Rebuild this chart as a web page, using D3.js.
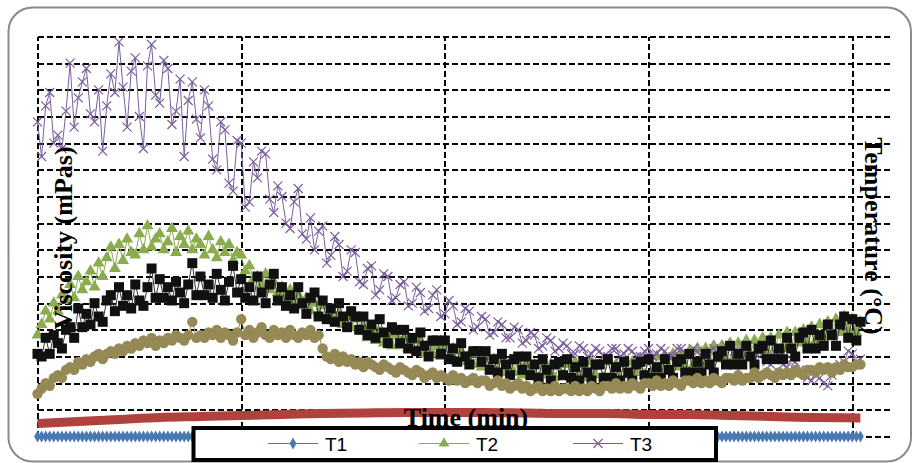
<!DOCTYPE html>
<html>
<head>
<meta charset="utf-8">
<script src="https://cdn.jsdelivr.net/npm/d3@7"></script>
<style>
  body { margin: 0; background: #fff; }
  svg { display: block; }
</style>
</head>
<body>
<div id="chart"></div>
<script>
// one reading per minute, 0..202 min
var time = d3.range(0, 203, 1);

var t1 = [0,0,0,0,0,0,0,0,0,0,0,0,0,0,0,0,0,0,0,0,
          0,0,0,0,0,0,0,0,0,0,0,0,0,0,0,0,0,0,0,0,
          0,0,0,0,0,0,0,0,0,0,0,0,0,0,0,0,0,0,0,0,
          0,0,0,0,0,0,0,0,0,0,0,0,0,0,0,0,0,0,0,0,
          0,0,0,0,0,0,0,0,0,0,0,0,0,0,0,0,0,0,0,0,
          0,0,0,0,0,0,0,0,0,0,0,0,0,0,0,0,0,0,0,0,
          0,0,0,0,0,0,0,0,0,0,0,0,0,0,0,0,0,0,0,0,
          0,0,0,0,0,0,0,0,0,0,0,0,0,0,0,0,0,0,0,0,
          0,0,0,0,0,0,0,0,0,0,0,0,0,0,0,0,0,0,0,0,
          0,0,0,0,0,0,0,0,0,0,0,0,0,0,0,0,0,0,0,0,
          0,0,0];

var t2 = [38,42,47,44,50,47,53,51,57,52, 60,55,58,62,56,65,60,67,71,63,
          72,66,74,69,68,76,70,79,71,74, 76,70,73,78,69,75,72,77,70,74,
          72,68,75,70,67,73,69,72,66,69, 68,62,64,59,60,57,61,55,58,54,
          56,52,55,50,53,49,52,47,50,46, 49,45,47,43,46,42,45,41,44,40,
          41,37,40,36,39,35,38,34,38,34, 37,33,36,32,36,31,35,31,34,30,
          34,29,33,28,32,28,31,27,31,26, 30,26,29,25,29,24,28,24,28,23,
          27,23,27,22,28,23,27,22,27,23, 27,22,28,23,27,22,28,23,27,22,
          28,23,27,22,28,23,28,24,29,23, 29,24,30,25,30,25,31,26,31,26,
          32,27,33,27,33,28,34,29,34,29, 35,30,35,30,36,31,36,32,37,32,
          37,33,38,33,39,34,39,35,40,35, 41,36,42,37,43,38,44,39,45,40,
          44,39,43];

var t3 = [118,105,124,129,110,113,108,122,140,116, 127,133,138,121,118,130,107,124,136,129,
          148,131,116,137,142,120,108,139,147,128, 125,141,138,117,122,134,105,126,133,119,
          112,130,124,104,100,118,115,95,92,111, 110,86,88,103,97,107,106,89,84,94,
          90,80,78,88,93,76,74,82,70,77, 79,65,68,75,72,60,62,70,69,58,
          57,63,64,53,55,61,60,51,52,57, 58,49,50,56,54,47,48,53,55,45,
          46,51,49,42,43,48,47,40,41,45, 44,38,39,43,42,37,37,41,40,35,
          36,39,38,33,34,37,36,32,33,35, 34,31,31,34,33,30,31,33,32,30,
          30,33,33,30,31,33,32,30,30,32, 33,30,31,33,32,30,30,33,33,31,
          31,33,32,30,30,32,33,31,31,34, 34,32,32,34,33,30,29,32,31,28,
          27,30,30,27,26,29,28,25,24,22, 21,23,22,20,19,23,25,27,28,32,
          31,28,29];

// black squares
var t4 = [31,30,37,31,38,35,33,40,41,37, 48,41,46,42,50,45,43,51,53,47,
          56,49,53,48,57,51,49,56,63,52, 59,52,56,51,58,54,50,57,65,53,
          60,53,57,52,61,55,51,58,64,54, 59,52,56,51,60,54,50,57,61,51,
          56,49,53,48,56,50,46,52,54,45, 51,44,48,43,50,45,41,47,45,40,
          45,38,42,37,44,39,35,41,40,35, 40,33,37,32,39,34,30,36,36,31,
          36,29,33,28,35,30,27,32,32,28, 32,25,29,24,31,27,23,29,30,25,
          30,23,27,22,29,25,21,27,28,23, 29,22,26,21,28,24,21,27,27,22,
          29,22,26,21,28,24,21,27,28,23, 29,22,26,22,29,25,22,28,29,24,
          31,24,28,24,31,27,24,30,32,27, 34,27,31,27,34,30,27,33,34,29,
          36,29,33,29,37,33,30,37,39,33, 40,33,38,34,42,38,34,42,45,37,
          44,36,43];

// tan circles
var t5 = [16,18,20,19,22,23,22,25,26,25, 28,27,29,28,30,31,29,31,32,31,
          33,32,34,33,35,34,36,35,37,34, 36,35,37,36,38,37,36,38,43,37,
          38,37,39,38,40,37,39,38,36,39, 44,38,40,37,39,41,38,37,40,38,
          39,37,40,38,37,39,38,40,37,38, 33,30,29,31,28,30,28,29,27,28,
          26,28,27,26,25,27,26,25,24,26, 25,24,23,25,24,22,23,24,22,23,
          22,21,23,21,22,20,21,22,20,21, 21,19,20,21,19,20,18,19,20,18,
          19,17,18,19,17,18,17,19,17,18, 18,17,19,17,18,17,19,18,17,19,
          19,18,20,18,19,18,20,19,18,20, 20,19,21,19,20,19,21,20,19,21,
          21,20,22,20,21,20,22,21,20,22, 22,21,23,21,22,22,24,22,23,24,
          23,22,24,23,24,23,25,24,23,25, 25,24,26,25,26,24,26,25,27,26,
          26,27,27];

// temperature (right axis)
var tempTime = [0,10,20,30,40,50,60,70,80,90,100,110,120,130,140,150,160,170,180,190,202];
var temperature = [21.3,21.5,21.7,21.9,22.0,22.1,22.2,22.3,22.35,22.4,22.4,22.4,22.35,22.3,22.3,22.2,22.2,22.1,22.0,21.9,21.85];

var xTicks = [0, 50, 100, 150, 200];
var yTicks = [0,10,20,30,40,50,60,70,80,90,100,110,120,130,140,150];
var legendLabels = ["T1", "T2", "T3"];

var W = 912, H = 463;
var margin = {top: 36.5, left: 37.5},
    width = 855.5,
    height = 400;

var svg = d3.select("#chart").append("svg")
    .attr("width", W)
    .attr("height", H);

// chart frame
svg.append("rect")
    .attr("x", 8.5).attr("y", 7.5)
    .attr("width", 902.5).attr("height", 454)
    .attr("rx", 24).attr("ry", 24)
    .attr("fill", "#fff")
    .attr("stroke", "#8a8a8a")
    .attr("stroke-width", 2);

var g = svg.append("g")
    .attr("transform", "translate(" + margin.left + "," + margin.top + ")");

var x = d3.scaleLinear().domain([0, 210]).range([0, width]);
var y = d3.scaleLinear().domain([0, 150]).range([height, 0]);
var y2 = d3.scaleLinear().domain([20, 60]).range([height, 0]);

// grid
g.append("g")
    .attr("class", "grid")
    .call(d3.axisLeft(y).tickValues(yTicks).tickSize(-width).tickFormat(""));
g.append("g")
    .attr("class", "grid")
    .attr("transform", "translate(0," + height + ")")
    .call(d3.axisBottom(x).tickValues(xTicks).tickSize(-height).tickFormat(""));
g.selectAll(".grid .domain").remove();
g.selectAll(".grid line")
    .attr("stroke", "#000")
    .attr("stroke-width", 2)
    .attr("stroke-dasharray", "6,3")
    .attr("shape-rendering", "crispEdges");

var titleFont = "'Liberation Serif', 'Times New Roman', serif";

// value axis titles sit under the data
svg.append("text")
    .attr("transform", "translate(72,238) rotate(-90)")
    .attr("text-anchor", "middle")
    .style("font-family", titleFont)
    .style("font-weight", "bold")
    .style("font-size", "26px")
    .text("Viscosity (mPas)");

svg.append("text")
    .attr("transform", "translate(865,236) rotate(90)")
    .attr("text-anchor", "middle")
    .style("font-family", titleFont)
    .style("font-weight", "bold")
    .style("font-size", "26px")
    .text("Temperature (\u00B0C)");

var xShape = "M-4.5,-4.5L4.5,4.5M-4.5,4.5L4.5,-4.5";

function drawSeries(values, color, lineColor, shape, size) {
    var pts = values.map(function(v, i) { return [time[i], v]; });
    var line = d3.line()
        .x(function(d) { return x(d[0]); })
        .y(function(d) { return y(d[1]); });
    g.append("path")
        .datum(pts)
        .attr("fill", "none")
        .attr("stroke", lineColor)
        .attr("stroke-width", 1)
        .attr("d", line);
    var marks = g.append("g").selectAll("path")
        .data(pts)
        .enter().append("path")
        .attr("transform", function(d) { return "translate(" + x(d[0]) + "," + y(d[1]) + ")"; });
    if (shape === "x") {
        marks.attr("d", xShape).attr("fill", "none").attr("stroke", color).attr("stroke-width", 1.2);
    } else {
        marks.attr("d", d3.symbol().type(shape).size(size)).attr("fill", color);
    }
}

drawSeries(t1, "#4a78b2", "#4a78b2", d3.symbolDiamond, 40);

// temperature line
g.append("path")
    .datum(tempTime.map(function(t, i) { return [t, temperature[i]]; }))
    .attr("fill", "none")
    .attr("stroke", "#b0423e")
    .attr("stroke-width", 9)
    .attr("d", d3.line()
        .curve(d3.curveMonotoneX)
        .x(function(d) { return x(d[0]); })
        .y(function(d) { return y2(d[1]); }));

drawSeries(t2, "#8aac4f", "#8aac4f", d3.symbolTriangle, 62);
drawSeries(t3, "#7a5f9c", "#7a5f9c", "x", 0);
drawSeries(t4, "#111", "#333", d3.symbolSquare, 100);
drawSeries(t5, "#958a55", "#958a55", d3.symbolCircle, 85);

svg.append("text")
    .attr("x", 466).attr("y", 426)
    .attr("text-anchor", "middle")
    .style("font-family", titleFont)
    .style("font-weight", "bold")
    .style("font-size", "26px")
    .text("Time (min)");

// legend
var legend = svg.append("g");
legend.append("rect")
    .attr("x", 193.5).attr("y", 428)
    .attr("width", 522.5).attr("height", 32)
    .attr("fill", "#fff")
    .attr("stroke", "#000")
    .attr("stroke-width", 4);

var legendColors = ["#4a78b2", "#8aac4f", "#7a5f9c"];
var legendShapes = [d3.symbolDiamond, d3.symbolTriangle, "x"];
var legendX = [293, 444, 598];

legendLabels.forEach(function(label, i) {
    var cx = legendX[i], cy = 443.5;
    var item = legend.append("g");
    item.append("line")
        .attr("x1", cx - 25).attr("x2", cx + 25)
        .attr("y1", cy).attr("y2", cy)
        .attr("stroke", legendColors[i])
        .attr("stroke-width", 1.2);
    var m = item.append("path").attr("transform", "translate(" + cx + "," + cy + ")");
    if (legendShapes[i] === "x") {
        m.attr("d", xShape).attr("fill", "none").attr("stroke", legendColors[i]).attr("stroke-width", 1.3);
    } else {
        m.attr("d", d3.symbol().type(legendShapes[i]).size(i === 0 ? 40 : 50)).attr("fill", legendColors[i]);
    }
    item.append("text")
        .attr("x", cx + 32).attr("y", cy + 7)
        .style("font-family", "'Liberation Sans', Arial, sans-serif")
        .style("font-size", "19px")
        .text(label);
});
</script>
</body>
</html>
